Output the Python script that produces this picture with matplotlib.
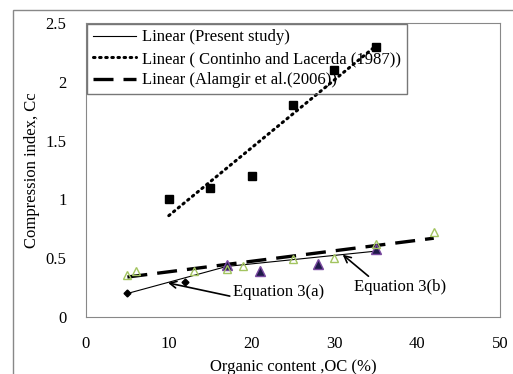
import numpy as np
import matplotlib.pyplot as plt
from matplotlib.patches import Rectangle

plt.rcParams['font.family'] = ['Liberation Serif', 'DejaVu Serif']

# Present study data
present_a_oc = [5, 12]
present_a_cc = [0.2, 0.3]
present_b_oc = [17, 21, 28, 35]
present_b_cc = [0.44, 0.39, 0.45, 0.58]
# Present study trend lines (Equation 3(a), 3(b))
eq3a_oc = [5, 17]
eq3a_cc = [0.2, 0.43]
eq3b_oc = [17, 35]
eq3b_cc = [0.43, 0.56]

# Continho and Lacerda (1987)
contin_oc = [10, 15, 20, 25, 30, 35]
contin_cc = [1.0, 1.1, 1.2, 1.8, 2.1, 2.3]

# Alamgir et al. (2006)
alam_oc = [5, 6, 13, 17, 19, 25, 30, 35, 42]
alam_cc = [0.36, 0.39, 0.39, 0.41, 0.43, 0.49, 0.50, 0.62, 0.72]
alam_fit_oc = [5, 42]
alam_fit_cc = [0.34, 0.67]

fig = plt.figure(figsize=(5.13, 3.74), dpi=100)
ax = fig.add_axes([86 / 513, 1 - 317 / 374, 414 / 513, 294 / 374])

# outer chart border
fig.patches.append(Rectangle((13 / 513, -0.1), 1.2, 1 - 10 / 374 + 0.1,
                             transform=fig.transFigure, fill=False,
                             edgecolor='#888888', lw=1))

# trend lines
l1, = ax.plot(eq3a_oc, eq3a_cc, color='black', lw=0.8)
ax.plot(eq3b_oc, eq3b_cc, color='black', lw=0.8)
k, b = np.polyfit(contin_oc, contin_cc, 1)
xs = np.array([contin_oc[0], contin_oc[-1]])
l2, = ax.plot(xs, k * xs + b, color='black', lw=2.2, linestyle=(0, (0.5, 1.5)),
              dash_capstyle='round')
l3, = ax.plot(alam_fit_oc, alam_fit_cc, color='black', lw=2.4,
              linestyle=(0, (6, 3)))

# markers
ax.plot(present_a_oc, present_a_cc, 'D', color='black', ms=3.5, ls='none')
ax.plot(present_b_oc, present_b_cc, '^', color='#1f1a4a', mec='#7a4aa0',
        ms=7, ls='none')
ax.plot(contin_oc, contin_cc, 's', color='black', ms=5.5, ls='none')
ax.plot(alam_oc, alam_cc, '^', mfc='none', mec='#a3c460', ms=5.5, mew=1,
        ls='none')

ax.set_xlim(0, 50)
ax.set_ylim(0, 2.5)
ax.set_xticks(range(0, 51, 10))
ax.set_yticks([0, 0.5, 1, 1.5, 2, 2.5])
ax.set_yticklabels(['0', '0.5', '1', '1.5', '2', '2.5'])
ax.tick_params(length=0, labelsize=12, pad=14)
ax.tick_params(axis='y', pad=14)
for s in ax.spines.values():
    s.set_color('#888888')

ax.set_xlabel('Organic content ,OC (%)', fontsize=12, labelpad=5)
ax.set_ylabel('Compression index, Cc', fontsize=12, labelpad=4)

# annotations
ax.annotate('Equation 3(a)', xy=(9.9, 0.29), xytext=(17.7, 0.21),
            fontsize=12, va='center',
            arrowprops=dict(arrowstyle='->', color='black', lw=1.2,
                            shrinkA=0, shrinkB=0, relpos=(-0.02, 0.25)))
ax.annotate('Equation 3(b)', xy=(31.0, 0.53), xytext=(32.4, 0.255),
            fontsize=12, va='center',
            arrowprops=dict(arrowstyle='->', color='black', lw=1.2,
                            shrinkA=0, shrinkB=0, relpos=(0.18, 1.05)))

leg = ax.legend([l1, l2, l3],
                ['Linear (Present study)',
                 'Linear ( Continho and Lacerda (1987))',
                 'Linear (Alamgir et al.(2006))'],
                loc='upper left', bbox_to_anchor=(0.003, 0.998),
                fontsize=12, frameon=True, fancybox=False,
                handlelength=2.6, handletextpad=0.35, borderpad=0.35,
                borderaxespad=0, labelspacing=0.33)
leg.get_frame().set_facecolor('none')
leg.get_frame().set_edgecolor('#555555')
leg.get_frame().set_linewidth(1)

fig.savefig('out.png', dpi=100)
